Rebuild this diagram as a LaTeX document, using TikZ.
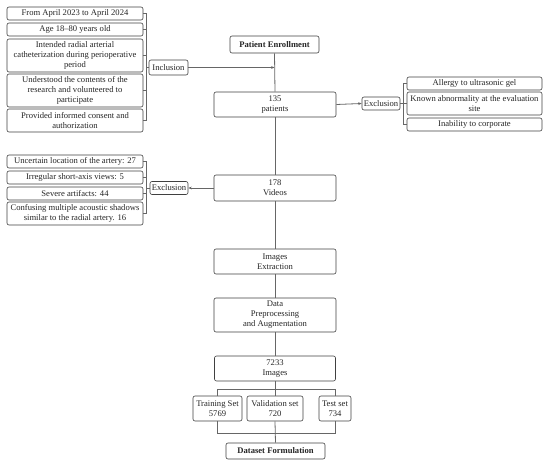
\documentclass[tikz,border=0pt]{standalone}
\usepackage{fontspec}
\setmainfont{Liberation Serif}
\usetikzlibrary{arrows.meta}
\begin{document}
\begin{tikzpicture}[x=1pt,y=-1pt,
  box/.style={draw=black!75, line width=0.6pt, rounded corners=2pt, fill=white,
    font=\fontsize{8.6}{10}\selectfont, align=center, inner sep=0.5pt, text=black!85},
  conn/.style={draw=black!60, line width=0.8pt},
  arr/.style={conn, -{Stealth[length=3.5pt,width=2.8pt]}}]
\useasboundingbox (0,0) rectangle (550,465);
% inclusion criteria
\node[box, minimum width=136pt, minimum height=13pt] (inc1) at (75,13.5) {From April 2023 to April 2024};
\node[box, minimum width=136pt, minimum height=13pt] (inc2) at (75,29.5) {Age 18--80 years old};
\node[box, minimum width=136pt, minimum height=33pt] (inc3) at (75,55.5) {Intended radial arterial\\catheterization during perioperative\\period};
\node[box, minimum width=136pt, minimum height=33pt] (inc4) at (75,90.5) {Understood the contents of the\\research and volunteered to\\participate};
\node[box, minimum width=136pt, minimum height=23pt] (inc5) at (75,120.5) {Provided informed consent and\\authorization};
\node[box, minimum width=39pt, minimum height=15pt] (incl) at (168.5,67.5) {Inclusion};
% main flow
\node[box, minimum width=89pt, minimum height=17pt, font=\fontsize{8.6}{10}\selectfont\bfseries] (pe) at (274.5,44.5) {Patient Enrollment};
\node[box, minimum width=122pt, minimum height=25pt] (p135) at (275,104.5) {135\\patients};
\node[box, minimum width=122pt, minimum height=26pt] (vid) at (275,188) {178\\Videos};
\node[box, minimum width=122pt, minimum height=25pt] (img) at (275,261.5) {Images\\Extraction};
\node[box, minimum width=122pt, minimum height=34pt] (dp) at (275,315) {Data\\Preprocessing\\and Augmentation};
\node[box, minimum width=121pt, minimum height=25pt] (i7233) at (275,368.5) {7233\\Images};
\node[box, minimum width=49pt, minimum height=25pt] (tr) at (217.5,408.5) {Training Set\\5769};
\node[box, minimum width=56pt, minimum height=25pt] (va) at (275,408.5) {Validation set\\720};
\node[box, minimum width=32pt, minimum height=25pt] (te) at (335,408.5) {Test set\\734};
\node[box, minimum width=99pt, minimum height=16pt, font=\fontsize{8.6}{10}\selectfont\bfseries] (df) at (275.5,451) {Dataset Formulation};
% right exclusion
\node[box, minimum width=38pt, minimum height=13pt] (exR) at (381,103.5) {Exclusion};
\node[box, minimum width=135pt, minimum height=13pt] (exR1) at (474.5,83.5) {Allergy to ultrasonic gel};
\node[box, minimum width=135pt, minimum height=23pt] (exR2) at (474.5,103.5) {Known abnormality at the evaluation\\site};
\node[box, minimum width=135pt, minimum height=13pt] (exR3) at (474.5,124.5) {Inability to corporate};
% left exclusion
\node[box, minimum width=38pt, minimum height=13pt] (exL) at (169,188) {Exclusion};
\node[box, minimum width=136pt, minimum height=13pt] (exL1) at (75,161.5) {Uncertain location of the artery: 27};
\node[box, minimum width=136pt, minimum height=13pt] (exL2) at (75,177.5) {Irregular short-axis views: 5};
\node[box, minimum width=136pt, minimum height=13pt] (exL3) at (75,193.5) {Severe artifacts: 44};
\node[box, minimum width=136pt, minimum height=23pt] (exL4) at (75,213.5) {Confusing multiple acoustic shadows\\similar to the radial artery. 16};
% coordinates
\coordinate (bi) at (146,67.5);
\coordinate (bl) at (146,188);
\coordinate (br) at (403,103.5);
\coordinate (tl) at (217.5,389);
\coordinate (trr) at (335,389);
\coordinate (bl2) at (217.5,433);
\coordinate (br2) at (335,433);
% main line
\draw[conn] (pe.south) -- (p135.north);
\draw[conn] (p135.south) -- (vid.north);
\draw[conn] (vid.south) -- (img.north);
\draw[conn] (img.south) -- (dp.north);
\draw[conn] (dp.south) -- (i7233.north);
\draw[conn] (i7233.south) -- (va.north);
\draw[conn] (va.south) -- (df.north);
\draw[conn] (tr.north) -- (tl) -- (trr) -- (te.north);
\draw[conn] (tr.south) -- (bl2) -- (br2) -- (te.south);
% inclusion bracket
\draw[conn] (inc1.east) -| (bi);
\draw[conn] (inc5.east) -| (bi);
\foreach \n in {inc2,inc3,inc4} \draw[conn] (\n.east) -- (\n.east -| bi);
\draw[conn] (bi) -- (incl.west);
\draw[arr] (incl.east) -- (incl.east -| pe.south);
% right exclusion
\draw[arr] (p135.east) -- (exR.west);
\draw[conn] (exR.east) -- (br);
\draw[conn] (exR1.west) -| (br);
\draw[conn] (exR3.west) -| (br);
\draw[conn] (exR2.west) -- (exR2.west -| br);
% left exclusion
\draw[arr] (vid.west) -- (exL.east);
\draw[conn] (exL.west) -- (bl);
\draw[conn] (exL1.east) -| (bl);
\draw[conn] (exL4.east) -| (bl);
\foreach \n in {exL2,exL3} \draw[conn] (\n.east) -- (\n.east -| bl);
\end{tikzpicture}
\end{document}
